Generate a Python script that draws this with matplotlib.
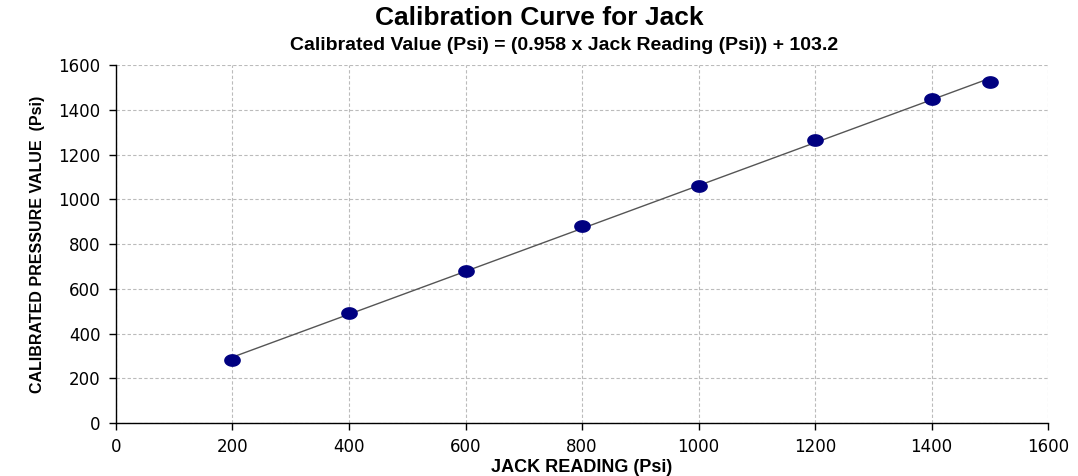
import numpy as np
import matplotlib
matplotlib.use('Agg')
import matplotlib.pyplot as plt
from matplotlib.path import Path

# Kalibrasyon verileri
jack_reading = [200, 400, 600, 800, 1000, 1200, 1400, 1500]
calibrated_value = [282, 490, 678, 882, 1060, 1263, 1450, 1522]

x_ticks = [0, 200, 400, 600, 800, 1000, 1200, 1400, 1600]
y_ticks = [0, 200, 400, 600, 800, 1000, 1200, 1400, 1600]

title = 'Calibration Curve for Jack'
subtitle = 'Calibrated Value (Psi) = (0.958 x Jack Reading (Psi)) + 103.2'
x_label = 'JACK READING (Psi)'
y_label = 'CALIBRATED PRESSURE VALUE  (Psi)'

fonts = ['Liberation Sans', 'DejaVu Sans']

fig = plt.figure(figsize=(10.78, 4.76), dpi=100)
ax = fig.add_axes([0.1076, 0.1113, 0.8646, 0.7521])

# trend çizgisi
coef = np.polyfit(jack_reading, calibrated_value, 1)
xs = np.array([min(jack_reading), max(jack_reading)])
ax.plot(xs, np.polyval(coef, xs), color='#555555', lw=1.0, zorder=2)

# elips marker
t = np.linspace(0, 2 * np.pi, 60)
ellipse = Path(np.column_stack([1.35 * np.cos(t), np.sin(t)]), closed=True)
ax.plot(jack_reading, calibrated_value, ls='none', marker=ellipse,
        markersize=11, color='#000080', zorder=3)

ax.set_xlim(0, 1600)
ax.set_ylim(0, 1600)
ax.set_xticks(x_ticks)
ax.set_yticks(y_ticks)
ax.tick_params(axis='both', direction='out', length=5, width=1,
               labelsize=12, colors='black', pad=6)
for lab in ax.get_xticklabels() + ax.get_yticklabels():
    lab.set_family('DejaVu Sans')

ax.grid(True, color='#bbbbbb', linestyle=(0, (3, 2)), linewidth=0.8)
ax.set_axisbelow(True)
for s in ['top', 'right']:
    ax.spines[s].set_visible(False)
for s in ['left', 'bottom']:
    ax.spines[s].set_color('black')
    ax.spines[s].set_linewidth(1.0)

ax.set_xlabel(x_label, fontsize=13, fontweight='bold', family=fonts, labelpad=2)
ax.set_ylabel(y_label, fontsize=11.5, fontweight='bold', family=fonts, labelpad=10)

fig.text(0.500, 0.962, title, ha='center', va='center', fontsize=19,
         fontweight='bold', family=fonts)
fig.text(0.523, 0.905, subtitle, ha='center', va='center', fontsize=14,
         fontweight='bold', family=fonts)

fig.savefig('out.png', dpi=100)
